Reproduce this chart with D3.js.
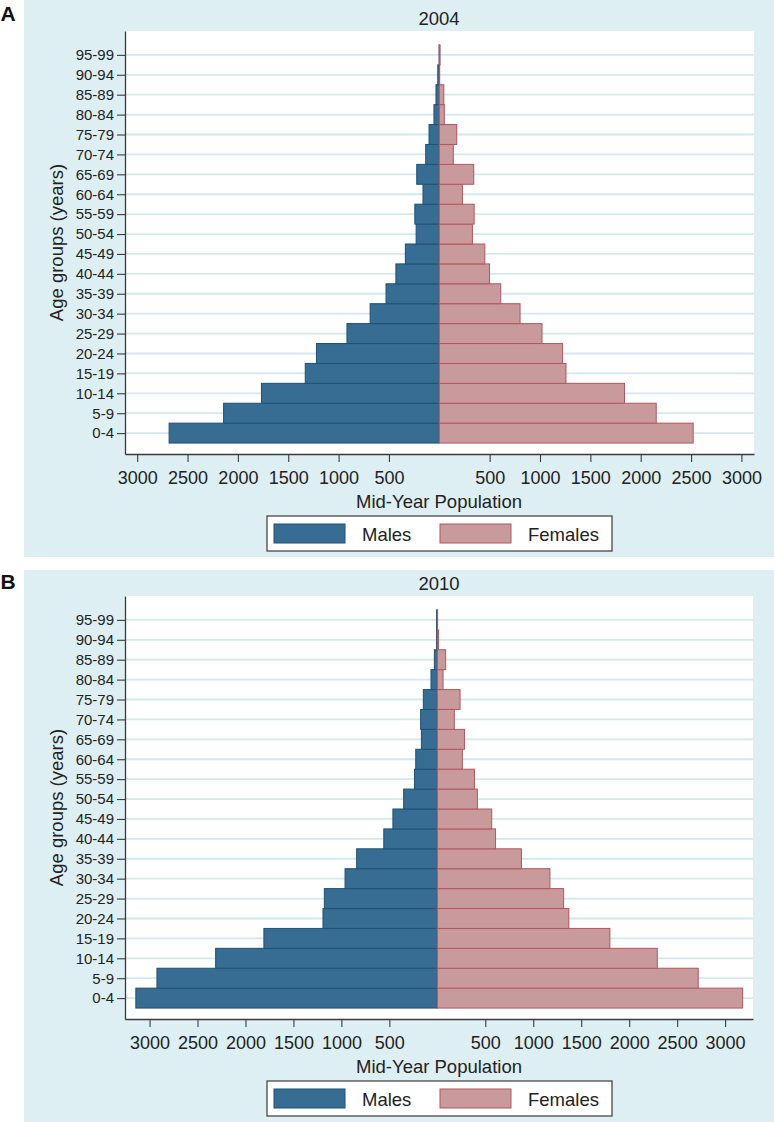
<!DOCTYPE html>
<html>
<head>
<meta charset="utf-8">
<script src="https://cdn.jsdelivr.net/npm/d3@7"></script>
<style>
  html, body { margin: 0; padding: 0; background: #ffffff; }
  svg { display: block; font-family: "Liberation Sans", Arial, Helvetica, sans-serif; }
</style>
</head>
<body>
<svg id="chart" width="774" height="1122"></svg>
<script>
// ---- Data ----
const ageGroups = ["0-4","5-9","10-14","15-19","20-24","25-29","30-34","35-39","40-44","45-49",
                   "50-54","55-59","60-64","65-69","70-74","75-79","80-84","85-89","90-94","95-99"];

const males2004   = [2683, 2142, 1766, 1331, 1220, 917, 687, 529, 431, 337, 230, 243, 162, 224, 135, 102, 53, 33, 15, 2];
const females2004 = [2521, 2154, 1839, 1258, 1224, 1020, 802, 610, 499, 452, 329, 346, 230, 342, 139, 173, 50, 45, 4, 8];

const males2010   = [3143, 2923, 2311, 1808, 1192, 1178, 962, 841, 558, 463, 351, 238, 225, 166, 174, 146, 66, 31, 8, 8];
const females2010 = [3183, 2720, 2293, 1799, 1371, 1317, 1174, 877, 607, 567, 418, 387, 261, 283, 177, 237, 60, 87, 12, 3];

const xTickValues = [-3000, -2500, -2000, -1500, -1000, -500, 500, 1000, 1500, 2000, 2500, 3000];
const seriesNames = ["Males", "Females"];
const panelLabels = ["A", "B"];
const panelYears  = ["2004", "2010"];

// ---- Styles ----
const C = {
  bg: "#deeff3",
  grid: "#d3e8ef",
  axis: "#3a3a3a",
  text: "#222222",
  maleFill: "#376d92",
  maleStroke: "#1f5075",
  femaleFill: "#c99a9b",
  femaleStroke: "#b3555e"
};

const svg = d3.select("#chart");

const panels = [
  { label: panelLabels[0], year: panelYears[0], males: males2004, females: females2004,
    off: 0, bgTop: 0, bgBottom: 557, right: 754, xDomain: [-3121, 3125] },
  { label: panelLabels[1], year: panelYears[1], males: males2010, females: females2010,
    off: 565, bgTop: 570, bgBottom: 1122, right: 753, xDomain: [-3256, 3291] }
];

panels.forEach(p => {
  const g = svg.append("g");
  const plotLeft = 125, plotRight = p.right;
  const plotTop = 31 + p.off, plotBottom = 454 + p.off;

  // panel background
  g.append("rect").attr("x", 24).attr("y", p.bgTop)
    .attr("width", 774 - 24).attr("height", p.bgBottom - p.bgTop)
    .attr("fill", C.bg);

  // panel letter
  g.append("text").attr("x", 0.5).attr("y", 21 + p.off + (p.off ? 2.5 : 0))
    .attr("font-size", 21).attr("font-weight", "bold").attr("fill", "#111")
    .text(p.label);

  // year title
  g.append("text").attr("x", 439).attr("y", 25 + p.off)
    .attr("text-anchor", "middle").attr("font-size", 18.5).attr("fill", C.text)
    .text(p.year);

  // plot area
  g.append("rect").attr("x", plotLeft).attr("y", plotTop)
    .attr("width", plotRight - plotLeft).attr("height", plotBottom - plotTop)
    .attr("fill", "#ffffff");

  const x = d3.scaleLinear().domain(p.xDomain).range([plotLeft, plotRight]);
  const y = d3.scaleLinear().domain([-1.05, 20.2]).range([plotBottom, plotTop]);

  // grid lines
  g.append("g").selectAll("line").data(ageGroups).join("line")
    .attr("x1", plotLeft).attr("x2", plotRight)
    .attr("y1", (d, i) => y(i)).attr("y2", (d, i) => y(i))
    .attr("stroke", C.grid).attr("stroke-width", 1.8);

  // male bars
  g.append("g").selectAll("rect").data(p.males).join("rect")
    .attr("x", d => x(-d)).attr("width", d => x(0) - x(-d))
    .attr("y", (d, i) => y(i + 0.5)).attr("height", (d, i) => y(i - 0.5) - y(i + 0.5))
    .attr("fill", C.maleFill).attr("stroke", C.maleStroke).attr("stroke-width", 1);

  // female bars
  g.append("g").selectAll("rect").data(p.females).join("rect")
    .attr("x", x(0)).attr("width", d => x(d) - x(0))
    .attr("y", (d, i) => y(i + 0.5)).attr("height", (d, i) => y(i - 0.5) - y(i + 0.5))
    .attr("fill", C.femaleFill).attr("stroke", C.femaleStroke).attr("stroke-width", 1);

  // y axis
  const yAxis = d3.axisLeft(y)
    .tickValues(d3.range(ageGroups.length))
    .tickFormat(i => ageGroups[i])
    .tickSize(8).tickSizeOuter(0).tickPadding(3);
  const ya = g.append("g").attr("transform", `translate(${plotLeft},0)`).call(yAxis);
  ya.select(".domain").attr("stroke", C.axis).attr("stroke-width", 1.3);
  ya.selectAll(".tick line").attr("stroke", C.axis).attr("stroke-width", 1.1);
  ya.selectAll(".tick text").attr("font-size", 15).attr("fill", C.text)
    .attr("font-family", "Liberation Sans, Arial, sans-serif");

  // x axis
  const xAxis = d3.axisBottom(x)
    .tickValues(xTickValues)
    .tickFormat(v => Math.abs(v))
    .tickSize(8).tickSizeOuter(0).tickPadding(9);
  const xa = g.append("g").attr("transform", `translate(0,${plotBottom})`).call(xAxis);
  xa.select(".domain").attr("stroke", C.axis).attr("stroke-width", 1.3);
  xa.selectAll(".tick line").attr("stroke", C.axis).attr("stroke-width", 1.1);
  xa.selectAll(".tick text").attr("font-size", 18).attr("fill", C.text)
    .attr("font-family", "Liberation Sans, Arial, sans-serif");

  // y axis title
  g.append("text")
    .attr("transform", `translate(63,${(plotTop + plotBottom) / 2}) rotate(-90)`)
    .attr("text-anchor", "middle").attr("font-size", 18.5).attr("fill", C.text)
    .text("Age groups (years)");

  // x axis title
  g.append("text").attr("x", 439).attr("y", plotBottom + 54)
    .attr("text-anchor", "middle").attr("font-size", 18.5).attr("fill", C.text)
    .text("Mid-Year Population");

  // legend
  const lt = plotBottom + 62;
  const lg = g.append("g");
  lg.append("rect").attr("x", 267).attr("y", lt).attr("width", 345).attr("height", 35)
    .attr("fill", "#ffffff").attr("stroke", C.axis).attr("stroke-width", 1.2);
  const items = [
    { name: seriesNames[0], fill: C.maleFill, stroke: C.maleStroke, sx: 274, tx: 362 },
    { name: seriesNames[1], fill: C.femaleFill, stroke: C.femaleStroke, sx: 440, tx: 528 }
  ];
  items.forEach(it => {
    lg.append("rect").attr("x", it.sx).attr("y", lt + 8).attr("width", 71).attr("height", 19)
      .attr("fill", it.fill).attr("stroke", it.stroke).attr("stroke-width", 1);
    lg.append("text").attr("x", it.tx).attr("y", lt + 24.5)
      .attr("font-size", 18.5).attr("fill", C.text).text(it.name);
  });
});
</script>
</body>
</html>
